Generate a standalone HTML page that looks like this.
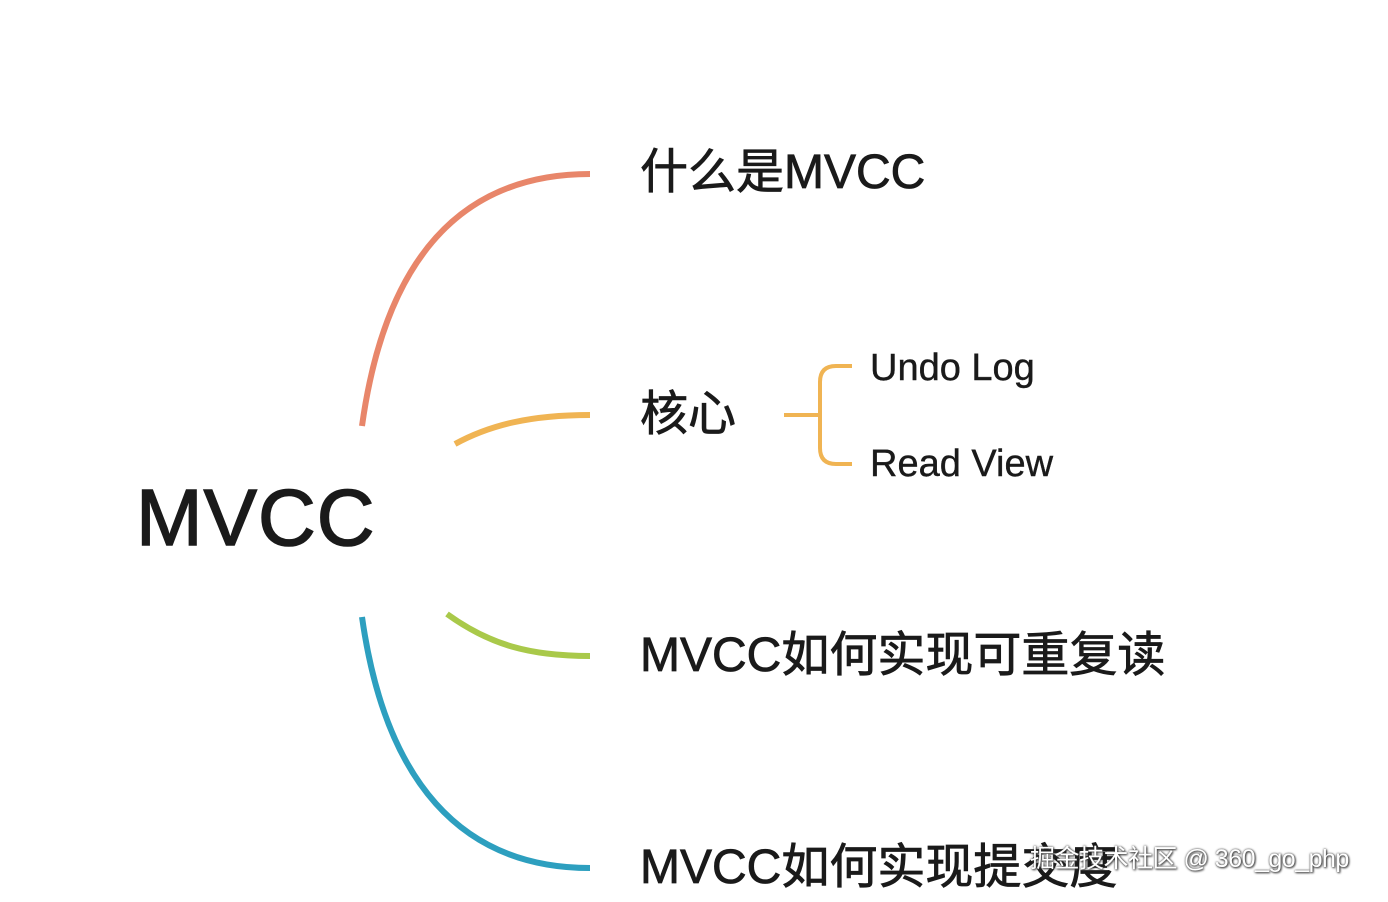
<!DOCTYPE html>
<html><head><meta charset="utf-8"><style>
body{margin:0;width:1388px;height:902px;background:#fff;overflow:hidden;position:relative;font-family:"Liberation Sans","Noto Sans CJK SC",sans-serif;color:#1a1a1a}
.t{position:absolute;white-space:nowrap;line-height:1;-webkit-text-stroke:0.8px #1a1a1a}
</style></head><body>
<svg width="1388" height="902" style="position:absolute;left:0;top:0" fill="none" stroke-linecap="butt">
<path d="M362 426 C385 260 460 174 590 174" stroke="#e8866a" stroke-width="6"/>
<path d="M455 444 C490 425 530 415 590 415" stroke="#f0b453" stroke-width="6"/>
<path d="M447 614 C490 645 530 656 590 656" stroke="#a9c94a" stroke-width="6"/>
<path d="M362 617 C385 780 460 868 590 868" stroke="#2d9fbf" stroke-width="6"/>
<path d="M784 415 H818 M852 366 H836 Q820 366 820 382 V448 Q820 464 836 464 H852" stroke="#f0b453" stroke-width="4"/>
</svg>
<div class="t" style="left:136px;top:478px;font-size:80px;letter-spacing:1px;-webkit-text-stroke:1.5px #1a1a1a">MVCC</div>
<div class="t" style="left:640px;top:149px;font-size:48px">什么是MVCC</div>
<div class="t" style="left:640px;top:391px;font-size:48px">核心</div>
<div class="t" style="left:870px;top:349px;font-size:38px;-webkit-text-stroke:0.4px #1a1a1a">Undo Log</div>
<div class="t" style="left:870px;top:445px;font-size:38px;-webkit-text-stroke:0.4px #1a1a1a">Read View</div>
<div class="t" style="left:640px;top:632px;font-size:48px">MVCC如何实现可重复读</div>
<div class="t" style="left:640px;top:844px;font-size:48px">MVCC如何实现提交度</div>
<div class="t" style="left:1030px;top:847px;font-size:25px;letter-spacing:-0.5px;color:#fff;-webkit-text-stroke:0;text-shadow:0 0 2px #333,1px 1px 2px #333">掘金技术社区 @ 360_go_php</div>
</body></html>
